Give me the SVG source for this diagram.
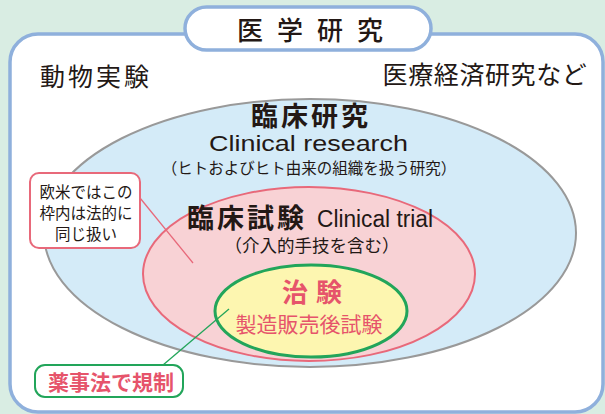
<svg xmlns="http://www.w3.org/2000/svg" width="605" height="414" viewBox="0 0 605 414">
<style>
text{font-family:"Noto Sans CJK JP","Noto Sans",sans-serif;fill:#231815;text-anchor:middle}
.b{font-weight:bold}
.pk{fill:#e6546b}
.en{font-family:"Liberation Sans","Noto Sans",sans-serif}
</style>
<rect x="0" y="0" width="605" height="414" fill="#d9ede3"/>
<g id="frame">
<rect x="10" y="34" width="593" height="378" rx="28" fill="#fff" stroke="#8fb0dc" stroke-width="3.5"/>
</g>
<g id="title">
<rect x="185" y="7" width="246" height="43" rx="21.5" fill="#fff" stroke="#8fb0dc" stroke-width="3.5"/>
<text x="317" y="40" font-size="26" letter-spacing="14" font-weight="500">医学研究</text>
</g>
<g id="labels">
<text x="96" y="86" font-size="25" letter-spacing="3">動物実験</text>
<text x="485" y="84" font-size="25" letter-spacing="0.6">医療経済研究など</text>
</g>
<g id="clinical-research">
<ellipse cx="310" cy="233" rx="266" ry="134" fill="#d4ebf8" stroke="#999" stroke-width="2"/>
<text x="311" y="126" font-size="27" class="b" letter-spacing="3">臨床研究</text>
<text x="209" y="151" font-size="21.5" class="en" style="text-anchor:start" textLength="199" lengthAdjust="spacingAndGlyphs">Clinical research</text>
<text x="309" y="174" font-size="15.5">（ヒトおよびヒト由来の組織を扱う研究）</text>
</g>
<g id="clinical-trial">
<ellipse cx="309" cy="274" rx="166" ry="87" fill="#f8d2d5" stroke="#e8697a" stroke-width="2"/>
<text x="187" y="228" font-size="27" class="b" letter-spacing="3" style="text-anchor:start">臨床試験</text>
<text x="317" y="227" font-size="23" class="en" style="text-anchor:start" textLength="116" lengthAdjust="spacingAndGlyphs">Clinical trial</text>
<text x="312" y="252" font-size="17.5">（介入的手技を含む）</text>
</g>
<g id="chiken">
<ellipse cx="311" cy="311" rx="96" ry="46" fill="#fdf6b0" stroke="#22a55a" stroke-width="3"/>
<text x="316" y="302" font-size="26" class="b pk" letter-spacing="8">治験</text>
<text x="309" y="332" font-size="21" class="pk">製造販売後試験</text>
</g>
<g id="connectors">
<line x1="140" y1="198" x2="193" y2="263" stroke="#e8697a" stroke-width="1.3"/>
<line x1="163" y1="365" x2="229" y2="309" stroke="#22a55a" stroke-width="1.3"/>
</g>
<g id="note-west">
<rect x="30" y="173" width="110" height="75" rx="9" fill="#fff" stroke="#e8697a" stroke-width="2"/>
<text x="86" y="198" font-size="15.5">欧米ではこの</text>
<text x="86" y="219" font-size="15.5">枠内は法的に</text>
<text x="86" y="240" font-size="15.5">同じ扱い</text>
</g>
<g id="note-law">
<rect x="35" y="365" width="148" height="32" rx="10" fill="#fff" stroke="#22a55a" stroke-width="2"/>
<text x="111" y="390" font-size="21" class="pk b">薬事法で規制</text>
</g>
</svg>
